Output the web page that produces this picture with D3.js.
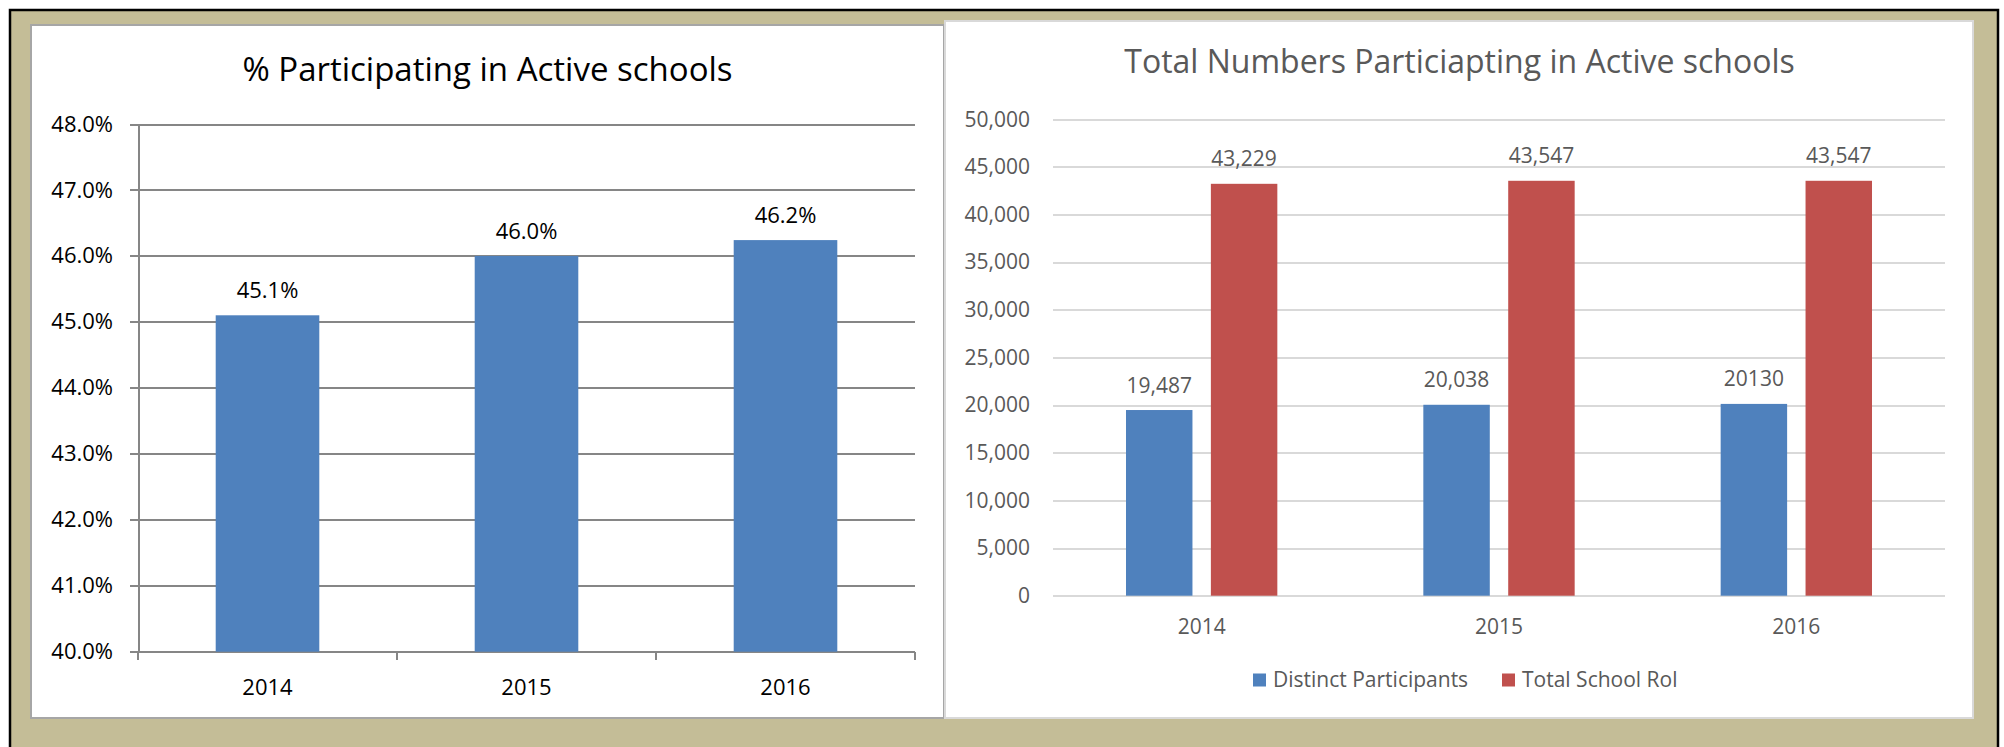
<!DOCTYPE html>
<html lang="en">

<head>
  <meta charset="utf-8">
  <title>Active schools participation</title>
  <script src="https://d3js.org/d3.v7.min.js"></script>

  <style>

    body {
      margin: 0;
      background: #fff;
      font-family: 'Open Sans', sans-serif;
    }

    .pctAxis text, .pctLabel, .pctTitle {
      fill: #000;
    }

    .pctAxis line, .pctAxis path, .pctGrid line {
      stroke: #868686;
      stroke-width: 2px;
      shape-rendering: crispEdges;
    }

    .numGrid line {
      stroke: #d9d9d9;
      stroke-width: 2px;
      shape-rendering: crispEdges;
    }

    .numGrid text, .numXAxis text, .numLabel, .numTitle, .legend text {
      fill: #595959;
    }

  </style>

</head>

<body>

  <div id="chart"></div>

  <script type="text/javascript">

    // data
    var years = ['2014', '2015', '2016'];

    var pctParticipating = [0.451, 0.460, 0.4624];
    var pctTicks = [0.40, 0.41, 0.42, 0.43, 0.44, 0.45, 0.46, 0.47, 0.48];

    var seriesNames = ['Distinct Participants', 'Total School Rol'];
    var distinctParticipants = [19487, 20038, 20130];
    var totalSchoolRoll = [43229, 43547, 43547];
    var distinctLabels = ['19,487', '20,038', '20130'];
    var rollLabels = ['43,229', '43,547', '43,547'];
    var countTicks = [0, 5000, 10000, 15000, 20000, 25000, 30000, 35000, 40000, 45000, 50000];

    var seriesColors = ['#4f81bd', '#c0504d'];
    var font = "'Open Sans', sans-serif";

    var svg = d3.select('#chart')
                .append('svg')
                .attr('width', 2004)
                .attr('height', 747)
                .style('font-family', font);

    // frame and panels
    svg.append('rect')
       .attr('x', 10).attr('y', 10)
       .attr('width', 1988).attr('height', 745)
       .attr('fill', '#c4bd97')
       .attr('stroke', '#000')
       .attr('stroke-width', 2.5);

    svg.append('rect')
       .attr('x', 31).attr('y', 25)
       .attr('width', 913).attr('height', 693)
       .attr('fill', '#fff')
       .attr('stroke', '#a6a6a6')
       .attr('stroke-width', 2);

    svg.append('rect')
       .attr('x', 945).attr('y', 21)
       .attr('width', 1028).attr('height', 697)
       .attr('fill', '#fff')
       .attr('stroke', '#d9d9d9')
       .attr('stroke-width', 2);

    // ---- left chart: % participating ----

    var pctX = d3.scaleBand()
                 .domain(years)
                 .range([138, 915])
                 .paddingInner(0.6)
                 .paddingOuter(0.3);

    var pctY = d3.scaleLinear()
                 .domain([0.40, 0.48])
                 .range([651.7, 124]);

    svg.append('text')
       .attr('class', 'pctTitle')
       .attr('x', 487.5)
       .attr('y', 80.7)
       .attr('text-anchor', 'middle')
       .style('font-size', '33px')
       .text('% Participating in Active schools');

    svg.append('g')
       .attr('class', 'pctGrid')
       .attr('transform', 'translate(138,0)')
       .call(d3.axisLeft(pctY).tickValues(pctTicks).tickSize(-777).tickFormat(''))
       .call(function(g) { g.select('.domain').remove(); });

    svg.append('g')
       .attr('class', 'pctAxis')
       .attr('transform', 'translate(138,0)')
       .call(d3.axisLeft(pctY)
               .tickValues(pctTicks)
               .tickSize(8)
               .tickSizeOuter(0)
               .tickPadding(17)
               .tickFormat(d3.format('.1%')))
       .call(function(g) {
         g.selectAll('text').style('font-size', '22px').style('font-family', font);
       });

    // category boundary ticks on the x axis
    var boundaries = years.map(function(d) { return pctX(d) - pctX.step() * pctX.paddingOuter(); })
                          .concat([pctX.range()[1]]);

    svg.append('g')
       .attr('class', 'pctAxis')
       .selectAll('line')
       .data(boundaries)
       .enter()
       .append('line')
       .attr('x1', function(d) { return d; })
       .attr('x2', function(d) { return d; })
       .attr('y1', pctY(0.40))
       .attr('y2', pctY(0.40) + 8);

    svg.append('g')
       .attr('class', 'pctAxis')
       .attr('transform', 'translate(0,' + pctY(0.40) + ')')
       .call(d3.axisBottom(pctX).tickSize(0).tickPadding(28))
       .call(function(g) {
         g.select('.domain').remove();
         g.selectAll('text').style('font-size', '22px').style('font-family', font);
       });

    svg.selectAll('.pctBar')
       .data(pctParticipating)
       .enter()
       .append('rect')
       .attr('class', 'pctBar')
       .attr('x', function(d, i) { return pctX(years[i]); })
       .attr('y', function(d) { return pctY(d); })
       .attr('width', pctX.bandwidth())
       .attr('height', function(d) { return pctY(0.40) - pctY(d); })
       .attr('fill', seriesColors[0]);

    svg.selectAll('.pctLabel')
       .data(pctParticipating)
       .enter()
       .append('text')
       .attr('class', 'pctLabel')
       .attr('x', function(d, i) { return pctX(years[i]) + pctX.bandwidth() / 2; })
       .attr('y', function(d) { return pctY(d) - 17; })
       .attr('text-anchor', 'middle')
       .style('font-size', '22px')
       .text(d3.format('.1%'));

    // ---- right chart: total numbers ----

    var numX = d3.scaleBand()
                 .domain(years)
                 .range([1053, 1945]);

    var numInner = d3.scaleBand()
                     .domain(seriesNames)
                     .range([0, numX.bandwidth()])
                     .paddingInner(0.217)
                     .paddingOuter(0.86);

    var numY = d3.scaleLinear()
                 .domain([0, 50000])
                 .range([595.7, 119.3]);

    svg.append('text')
       .attr('class', 'numTitle')
       .attr('x', 1459.5)
       .attr('y', 73.3)
       .attr('text-anchor', 'middle')
       .style('font-size', '32px')
       .text('Total Numbers Particiapting in Active schools');

    svg.append('g')
       .attr('class', 'numGrid')
       .attr('transform', 'translate(1053,0)')
       .call(d3.axisLeft(numY)
               .tickValues(countTicks)
               .tickSize(-892)
               .tickPadding(23)
               .tickFormat(d3.format(',')))
       .call(function(g) {
         g.select('.domain').remove();
         g.selectAll('text').style('font-size', '21px').style('font-family', font);
       });

    svg.append('g')
       .attr('class', 'numXAxis')
       .attr('transform', 'translate(0,' + numY(0) + ')')
       .call(d3.axisBottom(numX).tickSize(0).tickPadding(23))
       .call(function(g) {
         g.select('.domain').remove();
         g.selectAll('text').style('font-size', '21px').style('font-family', font);
       });

    var series = [
      { name: seriesNames[0], values: distinctParticipants, labels: distinctLabels, color: seriesColors[0] },
      { name: seriesNames[1], values: totalSchoolRoll, labels: rollLabels, color: seriesColors[1] }
    ];

    series.forEach(function(s) {

      svg.selectAll(null)
         .data(s.values)
         .enter()
         .append('rect')
         .attr('x', function(d, i) { return numX(years[i]) + numInner(s.name); })
         .attr('y', function(d) { return numY(d); })
         .attr('width', numInner.bandwidth())
         .attr('height', function(d) { return numY(0) - numY(d); })
         .attr('fill', s.color);

      svg.selectAll(null)
         .data(s.values)
         .enter()
         .append('text')
         .attr('class', 'numLabel')
         .attr('x', function(d, i) { return numX(years[i]) + numInner(s.name) + numInner.bandwidth() / 2; })
         .attr('y', function(d) { return numY(d) - 17.5; })
         .attr('text-anchor', 'middle')
         .style('font-size', '21px')
         .text(function(d, i) { return s.labels[i]; });

    });

    // legend
    var legendX = [1253, 1502];

    var legend = svg.append('g')
                    .attr('class', 'legend')
                    .selectAll('g')
                    .data(series)
                    .enter()
                    .append('g')
                    .attr('transform', function(d, i) { return 'translate(' + legendX[i] + ',673.5)'; });

    legend.append('rect')
          .attr('width', 13)
          .attr('height', 13)
          .attr('fill', function(d) { return d.color; });

    legend.append('text')
          .attr('x', 20)
          .attr('y', 13.2)
          .style('font-size', '21px')
          .text(function(d) { return d.name; });

  </script>
</body>

</html>
